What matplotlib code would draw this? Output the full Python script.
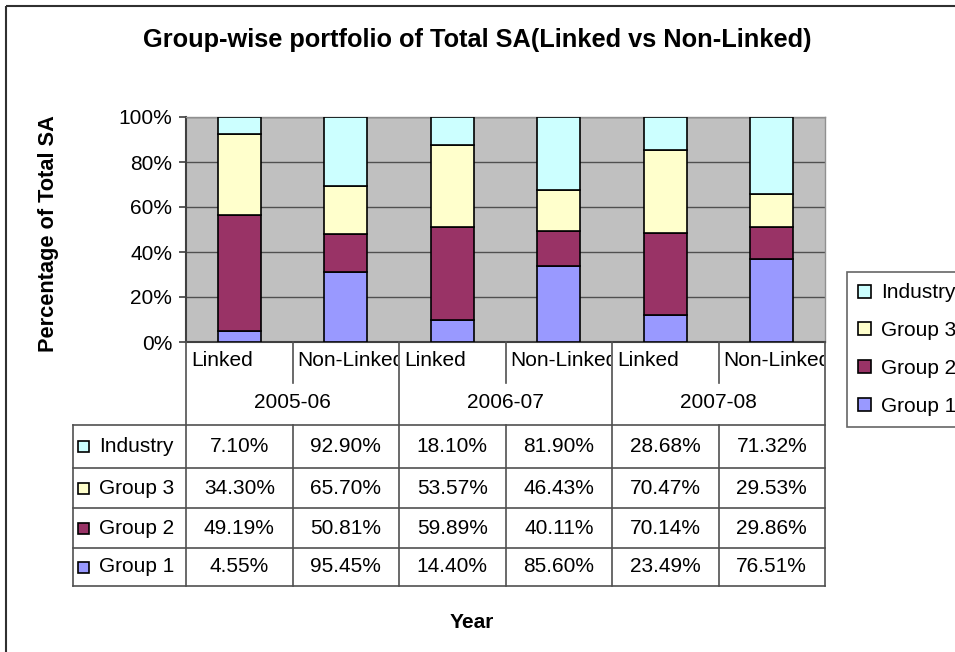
import numpy as np
import matplotlib
matplotlib.use("Agg")
import matplotlib.pyplot as plt
from matplotlib.lines import Line2D
from matplotlib.patches import Rectangle, Patch
from matplotlib.transforms import Affine2D, Bbox, TransformedBbox

plt.rcParams['font.family'] = ['Liberation Sans', 'DejaVu Sans']

years = ['2005-06', '2006-07', '2007-08']
types = ['Linked', 'Non-Linked']
series = ['Group 1', 'Group 2', 'Group 3', 'Industry']
group1 = [4.55, 95.45, 14.40, 85.60, 23.49, 76.51]
group2 = [49.19, 50.81, 59.89, 40.11, 70.14, 29.86]
group3 = [34.30, 65.70, 53.57, 46.43, 70.47, 29.53]
industry = [7.10, 92.90, 18.10, 81.90, 28.68, 71.32]
colors = ['#9999FF', '#993366', '#FFFFCC', '#CCFFFF']

W, H = 955, 652
fig = plt.figure(figsize=(W / 100, H / 100), dpi=100)
# pixel coords measured from top-left
pix = Affine2D().scale(1, -1).translate(0, H)

ax = fig.add_axes([186 / W, 1 - 342 / H, (825 - 186) / W, (342 - 117) / H])
ax.set_facecolor('#C0C0C0')

# 100% stacked columns
vals = np.array([group1, group2, group3, industry])
pct = vals / vals.sum(axis=0) * 100
x = np.arange(len(group1))
bottom = np.zeros(len(x))
for i, name in enumerate(series):
    ax.bar(x, pct[i], 0.4, bottom=bottom, color=colors[i], edgecolor='black',
           linewidth=1.2, label=name, zorder=3)
    bottom += pct[i]

ax.set_xlim(-0.5, len(x) - 0.5)
ax.set_ylim(0, 100)
ax.set_yticks(np.arange(0, 101, 20))
ax.set_yticklabels(['%d%%' % v for v in range(0, 101, 20)], fontsize=15)
ax.tick_params(axis='y', length=5, width=1.2, color='#404040', pad=5)
ax.set_xticks([])
ax.grid(axis='y', color='#505050', linewidth=1, zorder=0)
for s in ['left', 'bottom']:
    ax.spines[s].set_color('#404040')
    ax.spines[s].set_linewidth(1.5)
for s in ['top', 'right']:
    ax.spines[s].set_color('#909090')
    ax.spines[s].set_linewidth(1)

fig.text(477 / W, 1 - 40 / H, 'Group-wise portfolio of Total SA(Linked vs Non-Linked)',
         fontsize=18.3, fontweight='bold', ha='center', va='center')
fig.text(49 / W, 1 - 234 / H, 'Percentage of Total SA', fontsize=15.7,
         fontweight='bold', rotation=90, ha='center', va='center')
fig.text(472 / W, 1 - 623 / H, 'Year', fontsize=15, fontweight='bold',
         ha='center', va='center')

# data table under the axis
fig.canvas.draw()
xb = [ax.transData.transform((i - 0.5, 0))[0] for i in range(len(x) + 1)]
lc = '#505050'


def hline(x0, x1, y):
    fig.add_artist(Line2D([x0, x1], [y, y], transform=pix, color=lc, lw=1.2))


def vline(xx, y0, y1):
    fig.add_artist(Line2D([xx, xx], [y0, y1], transform=pix, color=lc, lw=1.2))


row_top = 342
row_type = 383
row_year = 425
rows = [425, 468, 508, 548, 586]
tab_left = 73

for k, xx in enumerate(xb):
    if k % 2 == 0:
        vline(xx, row_top, rows[-1])
    else:
        vline(xx, row_top, row_type)
        vline(xx, row_year, rows[-1])
vline(tab_left, rows[0], rows[-1])
for r in rows:
    hline(tab_left, xb[-1], r)

for i in range(len(x)):
    t = fig.text(xb[i] + 5, 361, types[i % 2], transform=pix, fontsize=15,
                 ha='left', va='center', clip_on=True)
    t.set_clip_box(TransformedBbox(Bbox.from_extents(xb[i], row_top, xb[i + 1] - 1, row_type), pix))
for j, yr in enumerate(years):
    fig.text((xb[2 * j] + xb[2 * j + 2]) / 2, 403, yr, transform=pix, fontsize=15,
             ha='center', va='center')

for r, i in enumerate(reversed(range(len(series)))):
    yc = (rows[r] + rows[r + 1]) / 2
    fig.add_artist(Rectangle((78, yc + 5.5), 11, -11, transform=pix,
                             facecolor=colors[i], edgecolor='black', lw=1.2))
    fig.text(99, yc, series[i], transform=pix, fontsize=15, ha='left', va='center')
    for c in range(len(x)):
        fig.text((xb[c] + xb[c + 1]) / 2, yc, '%.2f%%' % vals[i][c], transform=pix,
                 fontsize=15, ha='center', va='center')

handles = [Patch(facecolor=colors[i], edgecolor='black', lw=1.2) for i in reversed(range(4))]
leg = fig.legend(handles, list(reversed(series)), loc='upper left',
                 bbox_to_anchor=(847 / W, 1 - 272 / H), fontsize=15, frameon=True,
                 fancybox=False, handlelength=0.6, handleheight=0.6, handletextpad=0.5,
                 labelspacing=0.9, borderpad=0.55, borderaxespad=0)
leg.get_frame().set_edgecolor('#404040')
leg.get_frame().set_linewidth(1.2)

fig.add_artist(Rectangle((6, 6), 1000, 1000, transform=pix, fill=False,
                         edgecolor='#303030', lw=1.5))

fig.savefig('out.png', dpi=100)
